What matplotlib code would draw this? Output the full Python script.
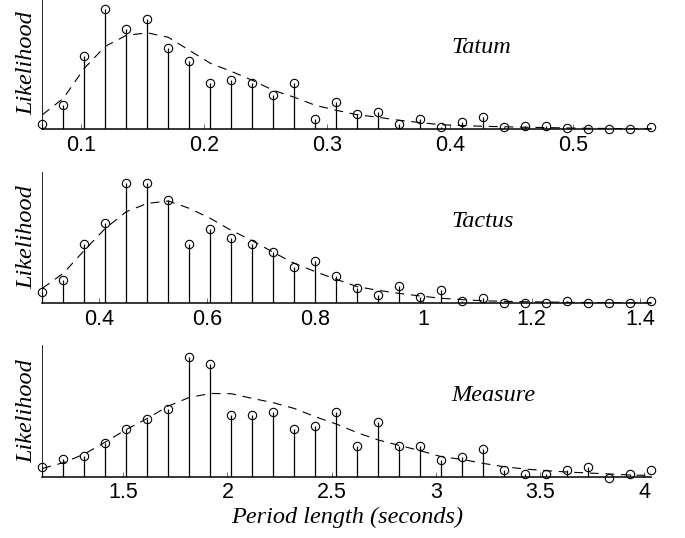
from __future__ import annotations

import matplotlib

matplotlib.use("Agg")

import matplotlib.pyplot as plt


# Period lengths (seconds) of the candidate periods in each panel
TATUM_X = [0.0688, 0.0859, 0.1029, 0.1200, 0.1371, 0.1542, 0.1712, 0.1883, 0.2054, 0.2224,
           0.2395, 0.2566, 0.2736, 0.2907, 0.3078, 0.3249, 0.3419, 0.3590, 0.3761, 0.3931,
           0.4102, 0.4273, 0.4443, 0.4614, 0.4785, 0.4956, 0.5126, 0.5297, 0.5468, 0.5638]
TACTUS_X = [0.2958, 0.3346, 0.3734, 0.4122, 0.4510, 0.4898, 0.5286, 0.5674, 0.6062, 0.6450,
            0.6838, 0.7226, 0.7614, 0.8002, 0.8390, 0.8778, 0.9166, 0.9554, 0.9942, 1.0330,
            1.0718, 1.1106, 1.1494, 1.1882, 1.2270, 1.2658, 1.3046, 1.3434, 1.3822, 1.4210]
MEASURE_X = [1.1113, 1.2121, 1.3129, 1.4137, 1.5145, 1.6153, 1.7161, 1.8169, 1.9177, 2.0185,
             2.1193, 2.2201, 2.3209, 2.4217, 2.5225, 2.6233, 2.7241, 2.8249, 2.9257, 3.0265,
             3.1273, 3.2281, 3.3289, 3.4297, 3.5305, 3.6313, 3.7321, 3.8329, 3.9337, 4.0345]

# Observed likelihoods (stems)
TATUM_Y = [0.042, 0.206, 0.611, 1.000, 0.836, 0.919, 0.675, 0.573, 0.389, 0.411,
           0.389, 0.286, 0.389, 0.083, 0.225, 0.125, 0.144, 0.042, 0.086, 0.023,
           0.064, 0.106, 0.023, 0.025, 0.028, 0.008, 0.006, 0.006, 0.003, 0.023]
TACTUS_Y = [0.092, 0.194, 0.494, 0.667, 1.000, 1.000, 0.858, 0.494, 0.617, 0.544,
            0.494, 0.425, 0.300, 0.356, 0.228, 0.125, 0.072, 0.142, 0.056, 0.111,
            0.019, 0.044, 0.000, 0.003, 0.006, 0.019, 0.003, 0.003, 0.003, 0.019]
MEASURE_Y = [0.083, 0.144, 0.169, 0.281, 0.394, 0.481, 0.567, 0.994, 0.939, 0.511,
             0.511, 0.539, 0.397, 0.425, 0.539, 0.253, 0.453, 0.253, 0.253, 0.139,
             0.167, 0.228, 0.056, 0.025, 0.025, 0.056, 0.083, -0.008, 0.025, 0.056]

# Fitted prior curves (dashed)
TATUM_FIT = [0.121, 0.258, 0.508, 0.692, 0.783, 0.804, 0.767, 0.658, 0.550, 0.483,
             0.408, 0.325, 0.267, 0.200, 0.158, 0.121, 0.100, 0.075, 0.056, 0.038,
             0.031, 0.025, 0.021, 0.017, 0.014, 0.011, 0.008, 0.007, 0.005, 0.004]
TACTUS_FIT = [0.125, 0.250, 0.442, 0.625, 0.764, 0.833, 0.853, 0.792, 0.708, 0.608,
              0.522, 0.425, 0.333, 0.264, 0.200, 0.139, 0.108, 0.083, 0.061, 0.042,
              0.031, 0.021, 0.017, 0.013, 0.011, 0.008, 0.007, 0.005, 0.004, 0.003]
MEASURE_FIT = [0.069, 0.117, 0.189, 0.289, 0.394, 0.486, 0.589, 0.661, 0.694, 0.692,
               0.653, 0.617, 0.569, 0.500, 0.439, 0.367, 0.306, 0.261, 0.217, 0.167,
               0.144, 0.111, 0.083, 0.064, 0.050, 0.039, 0.031, 0.023, 0.014, 0.011]

TATUM_TICKS = [0.1, 0.2, 0.3, 0.4, 0.5]
TATUM_LABELS = ["0.1", "0.2", "0.3", "0.4", "0.5"]
TACTUS_TICKS = [0.4, 0.6, 0.8, 1.0, 1.2, 1.4]
TACTUS_LABELS = ["0.4", "0.6", "0.8", "1", "1.2", "1.4"]
MEASURE_TICKS = [1.5, 2.0, 2.5, 3.0, 3.5, 4.0]
MEASURE_LABELS = ["1.5", "2", "2.5", "3", "3.5", "4"]

SERIF = ["Liberation Serif", "DejaVu Serif"]
SANS = ["Liberation Sans", "DejaVu Sans"]

# axes rectangles in figure fraction: left, bottom, width, height
LEFT, WIDTH, HEIGHT = 0.0618, 0.889, 0.2446
BOTTOMS = [0.7597, 0.4362, 0.1139]
YTOP = 1.097


def draw_panel(ax, x, y, fit, ticks, labels, name):
    markers, stems, base = ax.stem(x, y, linefmt="k-", markerfmt="ko", basefmt=" ")
    markers.set_markerfacecolor("none")
    markers.set_markeredgecolor("black")
    markers.set_markersize(6)
    markers.set_markeredgewidth(0.8)
    markers.set_clip_on(False)
    stems.set_linewidth(0.9)
    base.set_visible(False)

    ax.plot(x, fit, color="black", linewidth=0.8, linestyle=(0, (8, 6)))

    ax.set_xlim(x[0], x[-1])
    ax.set_ylim(0, YTOP)
    ax.set_yticks([])
    ax.set_xticks(ticks, labels)
    for lbl in ax.get_xticklabels():
        lbl.set_fontfamily(SANS)
        lbl.set_fontsize(15.5)
    ax.tick_params(axis="x", direction="in", length=3.6, width=0.6, color="#555555", pad=4)

    for side in ("top", "right"):
        ax.spines[side].set_visible(False)
    ax.spines["left"].set_linewidth(0.6)
    ax.spines["bottom"].set_linewidth(1.1)

    ax.set_ylabel("Likelihood", family=SERIF, style="italic", fontsize=17.5)
    ax.yaxis.set_label_coords(-0.009, 0.5)
    ax.text(0.671, 0.62, name, transform=ax.transAxes, ha="left", va="center",
            family=SERIF, style="italic", fontsize=17.5)


def main() -> None:
    fig = plt.figure(figsize=(6.85, 5.38), dpi=100)
    fig.patch.set_facecolor("white")

    panels = [
        (TATUM_X, TATUM_Y, TATUM_FIT, TATUM_TICKS, TATUM_LABELS, "Tatum"),
        (TACTUS_X, TACTUS_Y, TACTUS_FIT, TACTUS_TICKS, TACTUS_LABELS, "Tactus"),
        (MEASURE_X, MEASURE_Y, MEASURE_FIT, MEASURE_TICKS, MEASURE_LABELS, "Measure"),
    ]
    axes = []
    for bottom, panel in zip(BOTTOMS, panels):
        ax = fig.add_axes([LEFT, bottom, WIDTH, HEIGHT])
        draw_panel(ax, *panel)
        axes.append(ax)

    axes[-1].set_xlabel("Period length (seconds)", family=SERIF, style="italic", fontsize=17.5)
    axes[-1].xaxis.set_label_coords(0.5, -0.232)

    fig.savefig("out.png", dpi=100)
    plt.close(fig)


if __name__ == "__main__":
    main()
